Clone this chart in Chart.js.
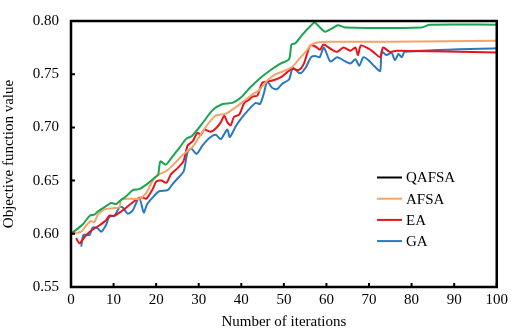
<!DOCTYPE html>
<html>
<head>
<meta charset="utf-8">
<script src="https://cdn.jsdelivr.net/npm/chart.js@4"></script>
<style>
  html, body { margin: 0; padding: 0; background: #fff; }
  #wrap { width: 512px; height: 331px; }
</style>
</head>
<body>
<div id="wrap"><canvas id="chart" width="512" height="331"></canvas></div>
<script>
// series (iteration, objective value)
const seriesNames = ["QAFSA", "AFSA", "EA", "GA"];
const lineColors = ["#1aa550", "#f4a46a", "#e8141c", "#2a78c0"];
const legendColors = ["#000000", "#f4a46a", "#e8141c", "#2a78c0"];

const qafsaX = [0, 2.8, 4.4, 5.5, 6.3, 7.9, 9.4, 10.6, 11.8, 12.9, 14.5, 16, 17.6, 20, 20.5, 21, 22.3, 23.5, 25.5, 27, 28.4, 30.9, 33.2, 35.6, 37.9, 39.9, 42.2, 44.6, 46.9, 49.2, 51.2, 51.8, 52.7, 54.3, 56.2, 57.2, 58.2, 59.7, 61.3, 62.7, 64.4, 82.3, 84.3, 100];
const qafsaY = [0.600, 0.609, 0.617, 0.618, 0.621, 0.625, 0.629, 0.628, 0.632, 0.635, 0.641, 0.642, 0.646, 0.654, 0.656, 0.668, 0.665, 0.671, 0.681, 0.689, 0.692, 0.704, 0.716, 0.722, 0.723, 0.728, 0.738, 0.747, 0.754, 0.760, 0.764, 0.778, 0.779, 0.787, 0.795, 0.7985, 0.795, 0.790, 0.793, 0.796, 0.794, 0.794, 0.7965, 0.7965];

const afsaX = [0, 2.4, 3.6, 4.7, 5.5, 6.3, 7.9, 9.8, 11.4, 11.8, 13.7, 16, 17.6, 19.2, 20.8, 22.4, 24.3, 26.2, 27.4, 28.6, 30.9, 32.5, 34.0, 36.4, 38.7, 41.0, 43.0, 44.2, 46.1, 48.1, 50.0, 52.0, 53.5, 55.1, 56.6, 58.2, 60, 75, 100];
const afsaY = [0.600, 0.602, 0.608, 0.612, 0.611, 0.618, 0.623, 0.624, 0.625, 0.632, 0.633, 0.633, 0.638, 0.650, 0.656, 0.659, 0.666, 0.674, 0.678, 0.682, 0.696, 0.705, 0.711, 0.713, 0.719, 0.726, 0.732, 0.735, 0.744, 0.750, 0.753, 0.757, 0.764, 0.771, 0.778, 0.780, 0.7805, 0.7805, 0.7815];

const eaX = [1.2, 2.0, 3.2, 4.4, 5.5, 6.7, 8.3, 9.0, 10.2, 11.8, 13.7, 15.7, 16.8, 17.7, 19.2, 20.0, 21.2, 22.4, 23.5, 25.1, 26.4, 27.4, 28.6, 29.7, 30.5, 31.3, 32.8, 34.0, 35.2, 36.0, 36.7, 37.5, 38.3, 39.5, 40.7, 41.8, 42.6, 43.8, 44.9, 46.1, 48.1, 49.6, 50.8, 52.0, 53.5, 54.7, 56.2, 57.4, 58.5, 59.3, 61.3, 62.5, 64.0, 65.6, 66.8, 67.4, 68.1, 69.9, 71.0, 72.6, 73.3, 74.9, 76.5, 100];
const eaY = [0.596, 0.591, 0.597, 0.602, 0.605, 0.608, 0.613, 0.617, 0.617, 0.621, 0.627, 0.633, 0.634, 0.633, 0.642, 0.649, 0.650, 0.648, 0.656, 0.662, 0.668, 0.683, 0.687, 0.695, 0.693, 0.698, 0.696, 0.699, 0.705, 0.711, 0.705, 0.702, 0.710, 0.712, 0.723, 0.726, 0.729, 0.730, 0.742, 0.743, 0.745, 0.748, 0.752, 0.755, 0.754, 0.760, 0.777, 0.776, 0.773, 0.778, 0.773, 0.771, 0.775, 0.772, 0.775, 0.768, 0.777, 0.774, 0.771, 0.766, 0.775, 0.771, 0.772, 0.7705];

const gaX = [2.4, 2.9, 3.6, 4.4, 5.1, 6.3, 7.1, 8.2, 9.0, 10.2, 11.4, 12.1, 13.3, 14.5, 16.0, 17.1, 17.9, 19.6, 20.7, 22.7, 23.9, 25.5, 26.5, 27.4, 28.3, 29.5, 30.9, 32.5, 34.0, 35.2, 36.7, 37.3, 38.7, 39.9, 41.8, 43.4, 44.4, 45.3, 46.1, 47.3, 48.4, 49.6, 51.2, 52.1, 53.3, 54.0, 55.1, 56.4, 57.4, 58.4, 59.4, 60.9, 62.5, 64.0, 65.6, 66.8, 67.7, 68.7, 69.9, 71.4, 72.6, 73.0, 74.1, 75.3, 76.1, 76.9, 77.7, 78.4, 100];
const gaY = [0.588, 0.599, 0.599, 0.599, 0.606, 0.605, 0.602, 0.608, 0.616, 0.617, 0.625, 0.625, 0.619, 0.622, 0.634, 0.620, 0.628, 0.636, 0.640, 0.641, 0.647, 0.654, 0.659, 0.677, 0.680, 0.675, 0.683, 0.690, 0.693, 0.689, 0.698, 0.691, 0.701, 0.708, 0.717, 0.723, 0.722, 0.732, 0.743, 0.737, 0.736, 0.741, 0.745, 0.756, 0.752, 0.751, 0.756, 0.766, 0.767, 0.766, 0.775, 0.762, 0.766, 0.763, 0.760, 0.764, 0.758, 0.766, 0.763, 0.757, 0.753, 0.771, 0.768, 0.770, 0.763, 0.769, 0.766, 0.771, 0.7745];

const xTicks = [0, 10, 20, 30, 40, 50, 60, 70, 80, 90, 100];
const yTicks = [0.55, 0.60, 0.65, 0.70, 0.75, 0.80];

const allX = [qafsaX, afsaX, eaX, gaX];
const allY = [qafsaY, afsaY, eaY, gaY];

const FONT = "'Liberation Serif', 'Times New Roman', serif";

function pts(xs, ys) {
  return xs.map((x, i) => ({ x: x, y: ys[i] }));
}

// frame, inward ticks and the boxed legend
const framePlugin = {
  id: "frame",
  afterDraw(chart) {
    const ctx = chart.ctx;
    const a = chart.chartArea;
    const xs = chart.scales.x, ys = chart.scales.y;
    ctx.save();
    ctx.strokeStyle = "#000";
    ctx.lineWidth = 2.5;
    ctx.strokeRect(a.left, a.top, a.right - a.left, a.bottom - a.top);
    ctx.lineWidth = 2;
    ctx.beginPath();
    xTicks.forEach(v => {
      const px = xs.getPixelForValue(v);
      ctx.moveTo(px, a.bottom);
      ctx.lineTo(px, a.bottom - 4);
    });
    yTicks.forEach(v => {
      const py = ys.getPixelForValue(v);
      ctx.moveTo(a.left, py);
      ctx.lineTo(a.left + 4, py);
    });
    ctx.stroke();

    // legend
    ctx.font = "15px " + FONT;
    ctx.textBaseline = "middle";
    ctx.textAlign = "left";
    seriesNames.forEach((name, i) => {
      const y = 177.5 + i * 21.2;
      ctx.strokeStyle = legendColors[i];
      ctx.lineWidth = 2;
      ctx.beginPath();
      ctx.moveTo(377, y);
      ctx.lineTo(402, y);
      ctx.stroke();
      ctx.fillStyle = "#000";
      ctx.fillText(name, 406, y + 1);
    });
    ctx.restore();
  }
};

new Chart(document.getElementById("chart"), {
  type: "line",
  data: {
    datasets: seriesNames.map((name, i) => ({
      label: name,
      data: pts(allX[i], allY[i]),
      borderColor: lineColors[i],
      backgroundColor: lineColors[i],
      borderWidth: 2,
      pointRadius: 0,
      tension: 0.25,
      fill: false
    }))
  },
  options: {
    responsive: false,
    animation: false,
    layout: { padding: { top: 9, right: 13, left: 0, bottom: 0 } },
    plugins: { legend: { display: false }, tooltip: { enabled: false } },
    scales: {
      x: {
        type: "linear",
        min: 0, max: 100,
        afterBuildTicks: s => { s.ticks = xTicks.map(v => ({ value: v })); },
        afterFit: s => { s.height = 44; },
        grid: { display: false, drawTicks: false },
        border: { display: false },
        ticks: { color: "#000", padding: 4, font: { family: FONT, size: 15 }, maxRotation: 0 },
        title: { display: true, text: "Number of iterations", color: "#000", font: { family: FONT, size: 15 }, padding: { top: 2, bottom: 0 } }
      },
      y: {
        min: 0.55, max: 0.80,
        afterBuildTicks: s => { s.ticks = yTicks.map(v => ({ value: v })); },
        afterFit: s => { s.width = 71; },
        grid: { display: false, drawTicks: false },
        border: { display: false },
        ticks: { color: "#000", padding: 12, font: { family: FONT, size: 15 }, callback: v => v.toFixed(2) },
        title: { display: true, text: "Objective function value", color: "#000", font: { family: FONT, size: 15 }, padding: { top: 0, bottom: 2 } }
      }
    }
  },
  plugins: [framePlugin]
});
</script>
</body>
</html>
